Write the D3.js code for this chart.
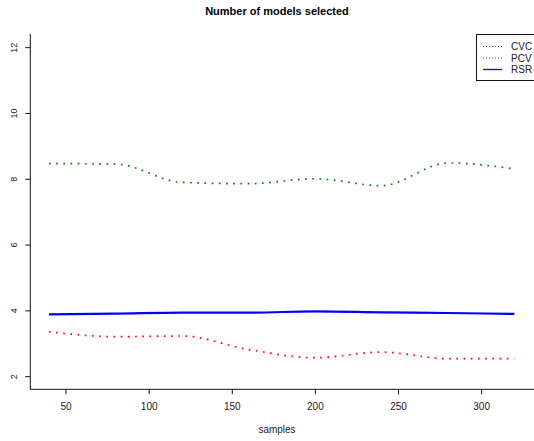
<!DOCTYPE html>
<html>
<head>
<meta charset="utf-8">
<script src="https://cdn.jsdelivr.net/npm/d3@7"></script>
<style>
  body { margin: 0; background: #fff; }
  svg text { font-family: "Liberation Sans", Arial, sans-serif; }
</style>
</head>
<body>
<div id="chart"></div>
<script>
// data
var samples = [40, 80, 120, 160, 200, 240, 280, 320];
var cvc = [8.46, 8.45, 7.89, 7.85, 8.0, 7.79, 8.48, 8.3];
var pcv = [3.35, 3.2, 3.22, 2.81, 2.56, 2.73, 2.53, 2.53];
var rsr = [3.88, 3.9, 3.93, 3.93, 3.97, 3.94, 3.92, 3.89];
var xTicks = [50, 100, 150, 200, 250, 300];
var yTicks = [2, 4, 6, 8, 10, 12];
var seriesNames = ["CVC", "PCV", "RSR"];
var seriesColors = ["#008000", "#ff0000", "#0000ff"];

function drawChart() {
  var width = 534, height = 441;
  var margin = { left: 30.3, right: 533, top: 34, bottom: 389.3 };

  var svg = d3.select("#chart").append("svg")
    .attr("width", width)
    .attr("height", height);

  var x = d3.scaleLinear().domain([28.8, 331.2]).range([margin.left, margin.right]);
  var y = d3.scaleLinear().domain([1.6, 12.4]).range([margin.bottom, margin.top]);

  // title
  svg.append("text")
    .attr("x", 277).attr("y", 15)
    .attr("text-anchor", "middle")
    .attr("font-size", 11).attr("font-weight", "bold")
    .text("Number of models selected");

  // L-shaped box
  svg.append("path")
    .attr("d", `M${margin.left},${margin.top}V${margin.bottom}H${width}`)
    .attr("fill", "none").attr("stroke", "#111").attr("stroke-width", 1);

  // y axis
  var yAxis = svg.append("g")
    .attr("transform", `translate(${margin.left},0)`)
    .call(d3.axisLeft(y).tickValues(yTicks).tickSize(5).tickFormat(d3.format("d")));
  yAxis.select(".domain").remove();
  yAxis.selectAll("line").attr("stroke", "#111");
  yAxis.selectAll("text")
    .attr("font-size", 9).attr("fill", "#222")
    .attr("x", null).attr("dy", null)
    .attr("text-anchor", "middle")
    .attr("transform", "translate(-13,0) rotate(-90)");

  // x axis
  var xAxis = svg.append("g")
    .attr("transform", `translate(0,${margin.bottom})`)
    .call(d3.axisBottom(x).tickValues(xTicks).tickSize(5));
  xAxis.select(".domain").remove();
  xAxis.selectAll("line").attr("stroke", "#111");
  xAxis.selectAll("text").attr("font-size", 10).attr("fill", "#222").attr("y", 14);

  svg.append("text")
    .attr("x", 277).attr("y", 433)
    .attr("text-anchor", "middle")
    .attr("font-size", 10).attr("fill", "#222")
    .text("samples");

  // lines
  var line = d3.line()
    .x(d => x(d[0]))
    .y(d => y(d[1]))
    .curve(d3.curveMonotoneX);

  var series = [cvc, pcv, rsr];
  series.forEach(function(vals, i) {
    var pts = samples.map((s, j) => [s, vals[j]]);
    var p = svg.append("path")
      .datum(pts)
      .attr("d", line)
      .attr("fill", "none")
      .attr("stroke", seriesColors[i]);
    if (i < 2) {
      p.attr("stroke-width", 1.7).attr("stroke-dasharray", "1.7,5.5");
    } else {
      p.attr("stroke-width", 2.2);
    }
  });

  // legend
  var lg = svg.append("g");
  lg.append("rect")
    .attr("x", 476.5).attr("y", 34.5)
    .attr("width", 70).attr("height", 46)
    .attr("fill", "#fff").attr("stroke", "#111");
  seriesNames.forEach(function(name, i) {
    var yy = 46.5 + i * 11.5;
    lg.append("line")
      .attr("x1", 483).attr("x2", 502)
      .attr("y1", yy).attr("y2", yy)
      .attr("stroke", seriesColors[i])
      .attr("stroke-width", i < 2 ? 1 : 1.3)
      .attr("stroke-dasharray", i < 2 ? "1,2" : null);
    lg.append("text")
      .attr("x", 511).attr("y", yy + 3.5)
      .attr("font-size", 10).attr("fill", "#222")
      .text(name);
  });
}

drawChart();
</script>
</body>
</html>
